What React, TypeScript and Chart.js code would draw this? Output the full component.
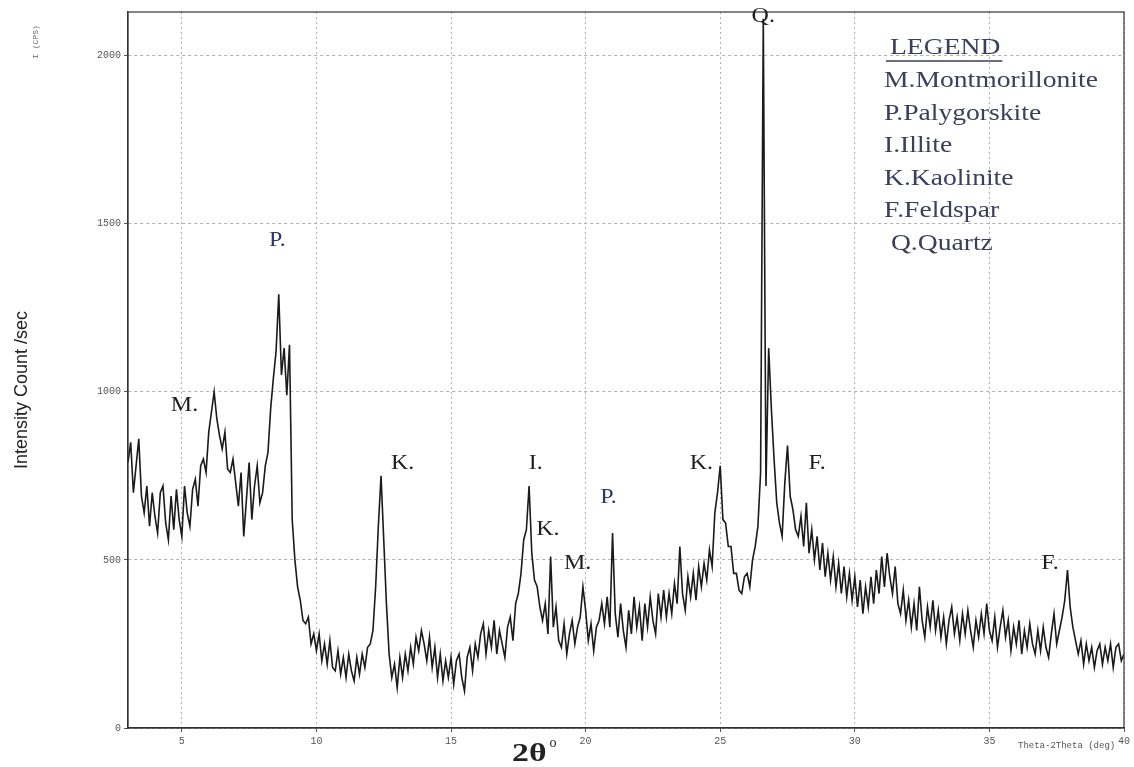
import React, { useEffect, useRef } from "react";
import { Chart, registerables } from "chart.js";

Chart.register(...registerables);

// 2-theta axis (degrees) — scan from 3° to 40° in 0.1° steps
const angleStart = 3;
const angleStep = 0.1;

// Intensity (counts/sec), one row per degree (10 samples each)
const intensity: number[] = [
  // 3.x
  790, 850, 700, 780, 860, 690, 640, 720, 600, 700,
  // 4.x
  630, 580, 700, 720, 610, 560, 690, 590, 710, 620,
  // 5.x
  570, 720, 640, 600, 710, 740, 660, 780, 800, 760,
  // 6.x
  880, 940, 1000, 920, 870, 830, 880, 770, 760, 800,
  // 7.x
  730, 660, 760, 570, 680, 790, 620, 720, 780, 670,
  // 8.x
  700, 780, 820, 950, 1040, 1120, 1290, 1050, 1130, 990,
  // 9.x
  1140, 620, 500, 420, 380, 320, 310, 330, 250, 280,
  // 10.x
  230, 280, 200, 250, 190, 260, 180, 170, 230, 160,
  // 11.x
  210, 150, 220, 170, 140, 210, 160, 220, 180, 240,
  // 12.x
  250, 290, 420, 600, 750, 560, 370, 220, 150, 190,
  // 13.x
  120, 210, 150, 220, 170, 240, 190, 270, 230, 290,
  // 14.x
  250, 200, 270, 180, 240, 150, 220, 140, 200, 150,
  // 15.x
  210, 130, 200, 220, 150, 110, 210, 240, 170, 250,
  // 16.x
  210, 280, 310, 220, 290, 240, 320, 220, 290, 250,
  // 17.x
  210, 300, 330, 260, 370, 400, 460, 560, 590, 720,
  // 18.x
  520, 440, 420, 360, 320, 370, 280, 510, 300, 360,
  // 19.x
  260, 240, 310, 220, 280, 320, 250, 300, 330, 420,
  // 20.x
  350, 260, 310, 230, 300, 320, 370, 310, 390, 300,
  // 21.x
  580, 340, 270, 370, 290, 240, 350, 280, 390, 300,
  // 22.x
  360, 260, 370, 300, 390, 320, 280, 400, 330, 410,
  // 23.x
  330, 400, 340, 430, 370, 540, 400, 350, 450, 390,
  // 24.x
  460, 380, 480, 420, 490, 440, 530, 480, 640, 700,
  // 25.x
  780, 620, 610, 540, 540, 460, 460, 410, 400, 450,
  // 26.x
  460, 420, 500, 540, 600, 760, 2110, 720, 1130, 950,
  // 27.x
  800, 670, 610, 570, 730, 840, 690, 650, 590, 570,
  // 28.x
  630, 540, 670, 520, 590, 500, 570, 470, 550, 450,
  // 29.x
  520, 440, 510, 420, 490, 400, 480, 390, 460, 380,
  // 30.x
  450, 360, 440, 340, 420, 360, 450, 370, 470, 400,
  // 31.x
  510, 420, 520, 450, 400, 480, 370, 340, 410, 320,
  // 32.x
  380, 300, 370, 290, 420, 320, 270, 360, 300, 380,
  // 33.x
  290, 350, 270, 330, 250, 320, 360, 280, 330, 260,
  // 34.x
  340, 280, 350, 290, 240, 320, 270, 340, 280, 370,
  // 35.x
  290, 260, 330, 240, 300, 350, 270, 320, 230, 300,
  // 36.x
  250, 320, 220, 290, 240, 310, 250, 220, 290, 230,
  // 37.x
  300, 240, 210, 280, 340, 250, 290, 330, 380, 470,
  // 38.x
  360, 300, 260, 220, 260, 190, 250, 200, 240, 180,
  // 39.x
  230, 250, 190, 240, 200, 250, 180, 240, 250, 200,
  // 40.0
  220,
];

const xTicks = [5, 10, 15, 20, 25, 30, 35, 40];
const yTicks = [0, 500, 1000, 1500, 2000];

// Peak identification labels (text, 2θ, intensity)
const peakLabelText = ["M.", "P.", "K.", "I.", "K.", "M.", "P.", "K.", "Q.", "F.", "F."];
const peakLabelAngle = [5.1, 8.55, 13.2, 18.15, 18.6, 19.7, 20.85, 24.3, 26.6, 28.6, 37.25];
const peakLabelCount = [960, 1450, 785, 785, 590, 490, 685, 785, 2115, 785, 490];
const peakLabelBlue = [false, true, false, false, false, false, true, false, false, false, false];

const legendTitle = "LEGEND";
const legendItems = [
  "M.Montmorillonite",
  "P.Palygorskite",
  "I.Illite",
  "K.Kaolinite",
  "F.Feldspar",
  " Q.Quartz",
];

function stretchText(ctx: CanvasRenderingContext2D, text: string, x: number, y: number, sx: number) {
  ctx.save();
  ctx.translate(x, y);
  ctx.scale(sx, 1);
  ctx.fillText(text, 0, 0);
  ctx.restore();
}

export default function App() {
  const ref = useRef<HTMLCanvasElement | null>(null);

  useEffect(() => {
    if (!ref.current) return;
    const points = intensity.map((v, i) => ({
      x: Math.round((angleStart + i * angleStep) * 10) / 10,
      y: v,
    }));

    const decorations = {
      id: "decorations",
      afterDraw(chart: any) {
        const { ctx, chartArea, scales } = chart;
        const xs = scales.x;
        const ys = scales.y;
        ctx.save();
        // frame
        ctx.strokeStyle = "#333";
        ctx.lineWidth = 1.2;
        ctx.setLineDash([]);
        ctx.strokeRect(chartArea.left, chartArea.top, chartArea.right - chartArea.left, chartArea.bottom - chartArea.top);

        // peak labels
        ctx.font = '20px "Liberation Serif", serif';
        ctx.textAlign = "center";
        ctx.textBaseline = "middle";
        peakLabelText.forEach((t, i) => {
          ctx.fillStyle = peakLabelBlue[i] ? "#2e3870" : "#1e1e1e";
          stretchText(ctx, t, xs.getPixelForValue(peakLabelAngle[i]), ys.getPixelForValue(peakLabelCount[i]), 1.2);
        });

        // legend box text
        ctx.textAlign = "left";
        ctx.fillStyle = "#3a3f5c";
        ctx.font = '23px "Liberation Serif", serif';
        const lx = chartArea.right - 240;
        const ty = chartArea.top + 36;
        stretchText(ctx, legendTitle, lx + 6, ty, 1.2);
        const w = ctx.measureText(legendTitle).width * 1.2;
        ctx.strokeStyle = "#3a3f5c";
        ctx.lineWidth = 1.4;
        ctx.beginPath();
        ctx.moveTo(lx + 2, ty + 13);
        ctx.lineTo(lx + 8 + w, ty + 13);
        ctx.stroke();
        legendItems.forEach((t, i) => {
          stretchText(ctx, t, lx, ty + 33 + i * 32.5, 1.2);
        });

        // axis titles
        ctx.fillStyle = "#222";
        ctx.save();
        ctx.translate(22, 390);
        ctx.rotate(-Math.PI / 2);
        ctx.textAlign = "center";
        ctx.font = '18px "Liberation Sans Narrow", "Liberation Sans", sans-serif';
        ctx.fillText("Intensity Count /sec", 0, 0);
        ctx.restore();

        ctx.save();
        ctx.translate(36, 42);
        ctx.rotate(-Math.PI / 2);
        ctx.textAlign = "center";
        ctx.fillStyle = "#666";
        ctx.font = '8px "Liberation Mono", monospace';
        ctx.fillText("I (CPS)", 0, 0);
        ctx.restore();

        ctx.textAlign = "left";
        ctx.textBaseline = "alphabetic";
        ctx.fillStyle = "#222";
        ctx.font = 'bold 25px "Liberation Serif", serif';
        stretchText(ctx, "2θ", 512, 761, 1.35);
        const w2 = ctx.measureText("2θ").width * 1.35;
        ctx.font = '14px "Liberation Serif", serif';
        ctx.fillText("o", 512 + w2 + 3, 747);

        ctx.textBaseline = "middle";
        ctx.fillStyle = "#555";
        ctx.font = '9px "Liberation Mono", monospace';
        ctx.fillText("Theta-2Theta (deg)", 1018, 746);
        ctx.restore();
      },
    };

    const chart = new Chart(ref.current, {
      type: "line",
      data: {
        datasets: [
          {
            data: points,
            borderColor: "#1a1a1a",
            borderWidth: 1.6,
            pointRadius: 0,
            tension: 0,
            fill: false,
          },
        ],
      },
      options: {
        animation: false,
        responsive: false,
        layout: { padding: { left: 0, top: 12, right: 10, bottom: 0 } },
        plugins: { legend: { display: false }, tooltip: { enabled: false } },
        scales: {
          x: {
            type: "linear",
            min: 3,
            max: 40,
            afterBuildTicks: (s: any) => {
              s.ticks = xTicks.map((v) => ({ value: v }));
            },
            afterFit: (s: any) => {
              s.height = 39;
            },
            grid: { color: "#b0b0b0", lineWidth: 1, tickLength: 4, tickColor: "#555" },
            border: { display: true, color: "#333", width: 1.2, dash: [2, 3] },
            ticks: {
              color: "#555",
              font: { family: '"Liberation Mono", monospace', size: 10 },
              maxRotation: 0,
              padding: 3,
              callback: (v: any) => String(v),
            },
          },
          y: {
            type: "linear",
            min: 0,
            max: 2130,
            afterBuildTicks: (s: any) => {
              s.ticks = yTicks.map((v) => ({ value: v }));
            },
            afterFit: (s: any) => {
              s.width = 128;
            },
            grid: { color: "#b0b0b0", lineWidth: 1, tickLength: 4, tickColor: "#555" },
            border: { display: true, color: "#333", width: 1.2, dash: [3, 3] },
            ticks: {
              color: "#555",
              font: { family: '"Liberation Mono", monospace', size: 10 },
              padding: 3,
              callback: (v: any) => String(v),
            },
          },
        },
      },
      plugins: [decorations],
    });
    return () => chart.destroy();
  }, []);

  return (
    <div style={{ position: "fixed", left: 0, top: 0, width: 1134, height: 767, background: "#fff" }}>
      <canvas ref={ref} width={1134} height={767} style={{ width: 1134, height: 767 }} />
    </div>
  );
}
